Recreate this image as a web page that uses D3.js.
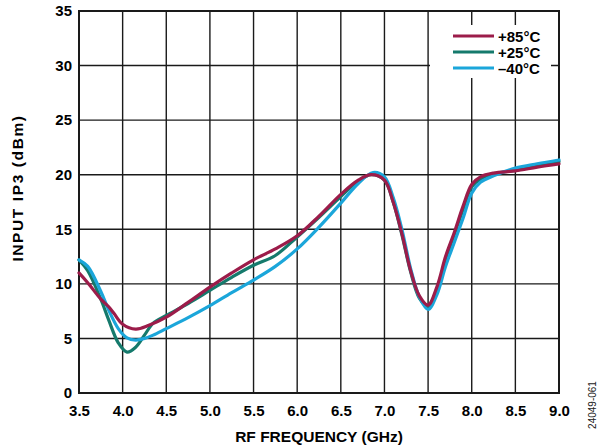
<!DOCTYPE html>
<html>
<head>
<meta charset="utf-8">
<script src="https://cdn.jsdelivr.net/npm/d3@7"></script>
<style>
  html, body { margin: 0; padding: 0; background: #fff; }
  svg { display: block; }
  text { font-family: "Liberation Sans", Arial, Helvetica, sans-serif; }
</style>
</head>
<body>
<svg id="chart" width="600" height="447"></svg>
<script>
// ---- data ----
const xTicks = [3.5, 4.0, 4.5, 5.0, 5.5, 6.0, 6.5, 7.0, 7.5, 8.0, 8.5, 9.0];
const yTicks = [0, 5, 10, 15, 20, 25, 30, 35];
const seriesNames = ["+85°C", "+25°C", "\u201340°C"];

const freq85 = [3.5, 3.6, 3.75, 3.84, 3.9, 4.0, 4.15, 4.3, 4.5, 4.75, 5.0, 5.25, 5.5, 5.75, 6.0, 6.25, 6.5, 6.7, 6.85, 7.0, 7.1, 7.2, 7.3, 7.4, 7.5, 7.6, 7.7, 7.8, 7.9, 8.0, 8.1, 8.25, 8.5, 8.75, 9.0];
const ip3_85  = [11.0, 10.1, 8.6, 7.9, 7.3, 6.3, 5.85, 6.2, 6.95, 8.3, 9.7, 11.0, 12.2, 13.2, 14.4, 16.2, 18.2, 19.5, 20.0, 19.5, 17.5, 14.6, 11.2, 8.9, 8.05, 9.7, 12.5, 14.7, 17.1, 19.1, 19.8, 20.15, 20.35, 20.7, 21.0];

const freq25 = [3.5, 3.6, 3.75, 3.84, 3.95, 4.05, 4.15, 4.25, 4.35, 4.5, 4.75, 5.0, 5.25, 5.5, 5.75, 6.0, 6.25, 6.5, 6.7, 6.85, 7.0, 7.1, 7.2, 7.3, 7.4, 7.5, 7.6, 7.7, 7.8, 7.9, 8.0, 8.1, 8.25, 8.5, 8.75, 9.0];
const ip3_25  = [12.2, 11.2, 8.6, 6.7, 4.6, 3.75, 4.2, 5.3, 6.4, 7.1, 8.2, 9.4, 10.6, 11.7, 12.6, 14.3, 16.1, 18.0, 19.4, 20.0, 19.5, 17.5, 14.5, 11.1, 8.7, 7.9, 9.5, 12.2, 14.5, 16.8, 18.9, 19.6, 20.1, 20.4, 20.9, 21.2];

const freqM40 = [3.5, 3.6, 3.75, 3.84, 3.95, 4.05, 4.15, 4.25, 4.35, 4.5, 4.75, 5.0, 5.25, 5.5, 5.75, 6.0, 6.25, 6.5, 6.7, 6.87, 7.0, 7.1, 7.2, 7.3, 7.4, 7.5, 7.6, 7.7, 7.8, 7.9, 8.0, 8.1, 8.25, 8.5, 8.75, 9.0];
const ip3_M40 = [12.2, 11.6, 9.3, 7.6, 5.9, 5.05, 4.85, 5.0, 5.3, 5.9, 6.9, 8.0, 9.2, 10.35, 11.6, 13.2, 15.2, 17.4, 19.2, 20.2, 19.8, 17.9, 15.0, 11.4, 8.8, 7.65, 9.0, 11.6, 13.8, 16.0, 18.3, 19.3, 19.9, 20.6, 21.0, 21.35];

const colors = ["#9c1c4a", "#157a6c", "#1ba6da"];

// ---- layout ----
const svg = d3.select("#chart");
const x = d3.scaleLinear().domain([3.5, 9.0]).range([79, 559]);
const y = d3.scaleLinear().domain([0, 35]).range([393, 11]);

// grid
const grid = svg.append("g");
grid.selectAll("line.v").data(xTicks).enter().append("line")
  .attr("x1", d => x(d)).attr("x2", d => x(d))
  .attr("y1", y(0)).attr("y2", y(35))
  .attr("stroke", "#1a1a1a").attr("stroke-width", 1.4);
grid.selectAll("line.h").data(yTicks).enter().append("line")
  .attr("x1", x(3.5)).attr("x2", x(9.0))
  .attr("y1", d => y(d)).attr("y2", d => y(d))
  .attr("stroke", "#1a1a1a").attr("stroke-width", 1.4);

// legend background (hides grid)
svg.append("rect").attr("x", 430).attr("y", 25).attr("width", 121).attr("height", 53).attr("fill", "#fff");

// frame
svg.append("rect").attr("x", x(3.5)).attr("y", y(35))
  .attr("width", x(9.0) - x(3.5)).attr("height", y(0) - y(35))
  .attr("fill", "none").attr("stroke", "#1a1a1a").attr("stroke-width", 2);

// axes labels via d3 axes (no tick lines)
const xAxis = svg.append("g").attr("transform", `translate(0,${y(0)})`)
  .call(d3.axisBottom(x).tickValues(xTicks).tickFormat(d3.format(".1f")).tickSize(0).tickPadding(12));
xAxis.select(".domain").remove();
xAxis.selectAll("text").attr("font-size", 15).attr("font-weight", "bold").attr("fill", "#000")
  .attr("font-family", "'Liberation Sans', Arial, sans-serif");

const yAxis = svg.append("g").attr("transform", `translate(${x(3.5)},0)`)
  .call(d3.axisLeft(y).tickValues(yTicks).tickFormat(d3.format("d")).tickSize(0).tickPadding(7));
yAxis.select(".domain").remove();
yAxis.selectAll("text").attr("font-size", 15).attr("font-weight", "bold").attr("fill", "#000")
  .attr("font-family", "'Liberation Sans', Arial, sans-serif");

// curves
const line = d3.line().x(d => x(d[0])).y(d => y(d[1])).curve(d3.curveCatmullRom.alpha(0.5));
const series = [
  { name: seriesNames[1], f: freq25, v: ip3_25, c: colors[1] },
  { name: seriesNames[2], f: freqM40, v: ip3_M40, c: colors[2] },
  { name: seriesNames[0], f: freq85, v: ip3_85, c: colors[0] }
];
series.forEach(s => {
  svg.append("path").datum(s.f.map((f, i) => [f, s.v[i]]))
    .attr("d", line).attr("fill", "none").attr("stroke", s.c)
    .attr("stroke-width", 3.2).attr("stroke-linejoin", "round").attr("stroke-linecap", "round");
});

// legend
const legendRows = [0, 1, 2];
const lg = svg.append("g");
legendRows.forEach((i) => {
  const yy = 36 + i * 16;
  lg.append("line").attr("x1", 453).attr("x2", 494).attr("y1", yy).attr("y2", yy)
    .attr("stroke", colors[i]).attr("stroke-width", 3.2);
  lg.append("text").attr("x", 498).attr("y", yy + 5.5).text(seriesNames[i])
    .attr("font-size", 15).attr("font-weight", "bold").attr("fill", "#000");
});

// axis titles
svg.append("text").attr("x", (x(3.5) + x(9.0)) / 2).attr("y", 442)
  .attr("text-anchor", "middle").attr("font-size", 15.5).attr("font-weight", "bold")
  .text("RF FREQUENCY (GHz)");
svg.append("text").attr("transform", "translate(23,188) rotate(-90)")
  .attr("text-anchor", "middle").attr("font-size", 15.5).attr("font-weight", "bold")
  .attr("letter-spacing", 1.6)
  .text("INPUT IP3 (dBm)");

// figure id
svg.append("text").attr("transform", "translate(596,405) rotate(-90)")
  .attr("text-anchor", "middle").attr("font-size", 10).attr("fill", "#222")
  .text("24049-061");
</script>
</body>
</html>
